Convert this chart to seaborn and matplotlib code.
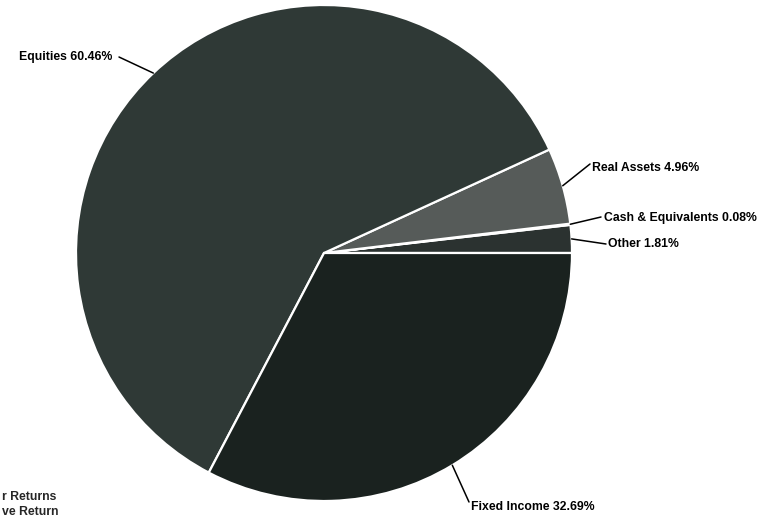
import numpy as np
import matplotlib
matplotlib.use("Agg")
import matplotlib.pyplot as plt
import seaborn as sns

# Data (counter-clockwise from 3 o'clock)
categories = ["Other", "Cash & Equivalents", "Real Assets", "Equities", "Fixed Income"]
shares = [1.81, 0.08, 4.96, 60.46, 32.69]
slice_colors = ["#2b3230", "#1b211f", "#565b59", "#2f3936", "#1a221f"]

# visible fragments of the cut-off legend text at the bottom left
legend_bits = ["r Returns", "ve Return"]

# Layout: leader end point and text anchor (image pixels, y down)
leader_ends = [(606, 244), (601, 217), (590, 164), (119, 57), (469, 502)]
text_pos = [(608, 244), (604, 218), (592, 168), (112, 57), (471, 507)]
text_ha = ["left", "left", "left", "right", "left"]

W, H = 769, 520
cx, cy, radius = 324, 253, 248

sns.set_theme(style="white")
plt.rcParams["font.family"] = ["Liberation Sans", "DejaVu Sans"]

fig = plt.figure(figsize=(W / 100, H / 100), dpi=100)
ax = fig.add_axes([0, 0, 1, 1])

wedges, _ = ax.pie(shares, colors=slice_colors, startangle=0, counterclock=True,
                   center=(cx, H - cy), radius=radius,
                   wedgeprops=dict(edgecolor="white", linewidth=1.6))
ax.set_xlim(0, W)
ax.set_ylim(0, H)
ax.set_aspect("equal")
ax.axis("off")

for i, w in enumerate(wedges):
    mid = np.deg2rad((w.theta1 + w.theta2) / 2)
    ex = cx + radius * np.cos(mid)
    ey = H - cy + radius * np.sin(mid)
    lx, ly = leader_ends[i]
    ax.plot([ex, lx], [ey, H - ly], color="black", lw=1.1)
    tx, ty = text_pos[i]
    ax.text(tx, H - ty, f"{categories[i]} {shares[i]:.2f}%", ha=text_ha[i], va="center",
            fontsize=8.8, color="black", fontweight="bold")

fig.text(2 / W, 1 - 497 / H, legend_bits[0], ha="left", va="center", fontsize=8.8, fontweight="bold")
fig.text(2 / W, 1 - 512 / H, legend_bits[1], ha="left", va="center", fontsize=8.8, fontweight="bold")

fig.savefig("out.png", dpi=100, facecolor="white")
